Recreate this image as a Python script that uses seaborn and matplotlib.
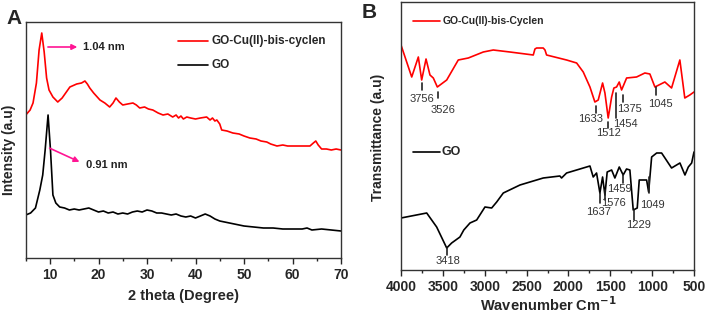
import numpy as np
import pandas as pd
import seaborn as sns
import matplotlib
matplotlib.use("Agg")
import matplotlib.pyplot as plt
from matplotlib.ticker import MultipleLocator

# ---------------- Panel A: XRD ----------------
xrd_theta_red = [5, 5.9, 6.5, 7.2, 7.75, 8.3, 8.8, 9.3, 9.8, 10.6, 11.6, 12.5, 14.1, 15.5, 16.5, 17.2, 17.7,
                 18.2, 19, 20.3, 21.3, 22.3, 23, 23.6, 24.3, 25, 26, 27.1, 27.8, 28.5, 29.5, 30.3, 31.2,
                 32.3, 33.3, 34.3, 35.3, 36, 36.5, 37, 37.5, 38.2, 39, 40, 41, 42.3, 43, 43.5, 44, 44.4,
                 45, 45.4, 46.5, 47.7, 49, 50, 51.2, 52.5, 53.5, 54.7, 55.5, 56.8, 58, 59, 60, 61.5, 62.5,
                 63.6, 64.3, 64.8, 65.3, 66, 67, 68, 69, 70]
xrd_int_red = [143, 148, 155, 175, 208, 225, 206, 180, 168, 161, 156, 160, 171, 174, 175, 177, 174,
               170, 165, 158, 155, 151, 155, 160, 156, 153, 154, 155, 153, 150, 151, 149, 148,
               145, 143, 144, 141, 143, 140, 142, 139, 141, 140, 139, 140, 141, 138, 140, 137, 138,
               134, 128, 127, 125, 124, 122, 120, 119, 117, 116, 114, 112, 113, 112, 112, 112, 112,
               112, 115, 117, 113, 109, 109, 108, 109, 108]

xrd_theta_go = [5, 6, 7, 7.9, 8.5, 9.0, 9.6, 10.1, 10.6, 11.2, 12, 13, 14, 15, 16, 17, 18, 19, 20, 21,
                22, 23, 24, 25, 26, 27, 28, 29, 30, 31, 32, 33, 34, 35, 36, 37, 38, 39, 40, 41, 42, 43,
                44, 45, 46, 47, 48, 49, 50, 52, 54, 56, 58, 60, 62, 63, 64, 66, 68, 70]
xrd_int_go = [43, 45, 50, 68, 83, 108, 143, 108, 63, 55, 51, 50, 48, 49, 48, 49, 50, 48, 46, 47,
              45, 46, 44, 45, 44, 46, 47, 46, 48, 47, 45, 45, 44, 43, 44, 42, 41, 42, 40, 42, 44, 42,
              39, 37, 36, 35, 34, 33, 32, 31, 30, 30, 29, 29, 29, 30, 28, 29, 28, 27]

xrd_labels = ["1.04 nm", "0.91 nm"]
xrd_arrow_start = [(9.0, 211), (9.4, 111)]
xrd_arrow_end = [(16.2, 211), (16.6, 95)]
xrd_text_pos = [(16.8, 211), (17.4, 93)]

# ---------------- Panel B: FTIR ----------------
ir_wn_red = [4000, 3872, 3793, 3753, 3701, 3654, 3614, 3566, 3454, 3316, 3196, 3017, 2898, 2699, 2420,
             2400, 2380, 2301, 2280, 2261, 2022, 1902, 1823, 1743, 1684, 1644, 1592, 1564, 1525, 1484,
             1457, 1425, 1393, 1365, 1305, 1186, 1087, 1027, 967, 848, 768, 669, 610, 550, 500]
ir_t_red = [225, 193, 213, 190, 211, 195, 192, 183, 190, 210, 212, 218, 220, 218, 215,
            221, 222, 222, 220, 215, 210, 207, 198, 183, 168, 170, 187, 177, 152, 173,
            182, 183, 188, 180, 192, 193, 197, 196, 183, 188, 182, 210, 172, 175, 178]

ir_wn_go = [4000, 3693, 3574, 3454, 3395, 3296, 3250, 3176, 3096, 2997, 2917, 2857, 2778, 2579, 2301,
            2102, 2082, 2022, 1743, 1704, 1664, 1624, 1592, 1564, 1537, 1484, 1445, 1393, 1346, 1306,
            1266, 1226, 1178, 1154, 1066, 1042, 1006, 946, 887, 847, 768, 668, 608, 568, 528, 500]
ir_t_go = [52, 57, 43, 22, 27, 33, 40, 47, 50, 63, 62, 68, 77, 85, 92,
           94, 92, 97, 104, 93, 97, 77, 93, 75, 98, 100, 92, 103, 95, 101,
           100, 60, 62, 90, 90, 78, 113, 117, 117, 112, 102, 107, 95, 103, 107, 118]

ir_red_labels = ["3756", "3526", "1633", "1512", "1454", "1375", "1045"]
ir_red_mark_x = [3753, 3554, 1672, 1525, 1433, 1346, 959]
ir_red_mark_y = [(187, 180), (178, 172), (164, 157), (148, 142), (177, 152), (175, 168), (183, 175)]
ir_red_text = [(3753, 171), (3502, 160), (1735, 151), (1525, 137), (1325, 146), (1266, 161), (899, 166)]

ir_go_labels = ["3418", "1637", "1576", "1459", "1229", "1049"]
ir_go_mark_x = [3454, 1624, 1564, 1346, 1218, 1039]
ir_go_mark_y = [(22, 15), (77, 67), (80, 70), (95, 87), (60, 50), (93, 77)]
ir_go_text = [(3440, 9), (1644, 58), (1457, 67), (1393, 81), (1166, 45), (995, 65)]

# ---------------- Figure ----------------
sns.set_style("ticks")
plt.rcParams["font.family"] = ["Liberation Sans", "DejaVu Sans"]
plt.rcParams["axes.linewidth"] = 1.0
plt.rcParams["axes.edgecolor"] = "#333333"

W, H = 706, 313
fig = plt.figure(figsize=(W / 100, H / 100), dpi=100)

def ax_rect(l, r, t, b):
    return [l / W, 1 - b / H, (r - l) / W, (b - t) / H]

RED = "#ff0000"
PINK = "#ff1493"

# Panel A
axA = fig.add_axes(ax_rect(25.75, 341, 22, 258))
sns.lineplot(x=xrd_theta_red, y=xrd_int_red, ax=axA, color=RED, lw=1.2, estimator=None, sort=False)
sns.lineplot(x=xrd_theta_go, y=xrd_int_go, ax=axA, color="black", lw=1.2, estimator=None, sort=False)
axA.set_xlim(5, 70)
axA.set_ylim(0, 236)
axA.set_yticks([])
axA.xaxis.set_major_locator(MultipleLocator(10))
axA.xaxis.set_minor_locator(MultipleLocator(5))
axA.tick_params(axis="x", which="major", direction="out", length=4, width=1, labelsize=10, pad=3)
axA.tick_params(axis="x", which="minor", direction="out", length=2.5, width=1)
for lab in axA.get_xticklabels():
    lab.set_fontweight("bold")
axA.set_xlabel("")
axA.set_ylabel("")
for s, e, t, p in zip(xrd_arrow_start, xrd_arrow_end, xrd_labels, xrd_text_pos):
    axA.annotate("", xy=e, xytext=s,
                 arrowprops=dict(arrowstyle="-|>", color=PINK, lw=1.2, mutation_scale=8))
    axA.text(p[0], p[1], t, fontsize=8, fontweight="bold", color="#222222", ha="left", va="center")
# legend A
axA.plot([36.4, 42.6], [217, 217], color=RED, lw=1.2)
axA.text(43.2, 217, "GO-Cu(II)-bis-cyclen", fontsize=8.5, fontweight="bold", ha="left", va="center")
axA.plot([36.4, 42.6], [193, 193], color="black", lw=1.2)
axA.text(43.2, 193, "GO", fontsize=8.5, fontweight="bold", ha="left", va="center")

# Panel B
axB = fig.add_axes(ax_rect(401, 694, 2, 270))
sns.lineplot(x=ir_wn_red, y=ir_t_red, ax=axB, color=RED, lw=1.2, estimator=None, sort=False)
sns.lineplot(x=ir_wn_go, y=ir_t_go, ax=axB, color="black", lw=1.2, estimator=None, sort=False)
axB.set_xlim(4000, 500)
axB.set_ylim(0, 268)
axB.set_yticks([])
axB.xaxis.set_major_locator(MultipleLocator(500))
axB.xaxis.set_minor_locator(MultipleLocator(250))
axB.tick_params(axis="x", which="major", direction="out", length=4, width=1, labelsize=10, pad=3)
axB.tick_params(axis="x", which="minor", direction="out", length=2.5, width=1)
for lab in axB.get_xticklabels():
    lab.set_fontweight("bold")
axB.set_xlabel("")
axB.set_ylabel("")
for t, mx, my, tp in zip(ir_red_labels, ir_red_mark_x, ir_red_mark_y, ir_red_text):
    axB.plot([mx, mx], my, color="#222222", lw=1.2)
    axB.text(tp[0], tp[1], t, fontsize=8, color="#333333", ha="center", va="center")
for t, mx, my, tp in zip(ir_go_labels, ir_go_mark_x, ir_go_mark_y, ir_go_text):
    axB.plot([mx, mx], my, color="#222222", lw=1.2)
    axB.text(tp[0], tp[1], t, fontsize=8, color="#333333", ha="center", va="center")
# legend B
axB.plot([3860, 3540], [249, 249], color=RED, lw=1.2)
axB.text(3505, 249, "GO-Cu(II)-bis-Cyclen", fontsize=7.5, fontweight="bold", ha="left", va="center")
axB.plot([3860, 3540], [118, 118], color="black", lw=1.2)
axB.text(3520, 118, "GO", fontsize=9, fontweight="bold", ha="left", va="center")

# Labels
fig.text(14 / W, 1 - 19 / H, "A", fontsize=15, fontweight="bold", ha="center", va="center")
fig.text(369 / W, 1 - 12 / H, "B", fontsize=15, fontweight="bold", ha="center", va="center")
fig.text(9 / W, 1 - 150 / H, "Intensity (a.u)", fontsize=10, fontweight="bold",
         rotation=90, ha="center", va="center")
fig.text(378 / W, 1 - 137 / H, "Transmittance (a.u)", fontsize=10, fontweight="bold",
         rotation=90, ha="center", va="center")
fig.text(183 / W, 1 - 296 / H, "2 theta (Degree)", fontsize=10.5, fontweight="bold",
         ha="center", va="center")
fig.text(548 / W, 1 - 305 / H, r"Wavenumber Cm$^{\mathbf{-1}}$", fontsize=10.5, fontweight="bold",
         ha="center", va="center")

fig.savefig("out.png", dpi=100)
